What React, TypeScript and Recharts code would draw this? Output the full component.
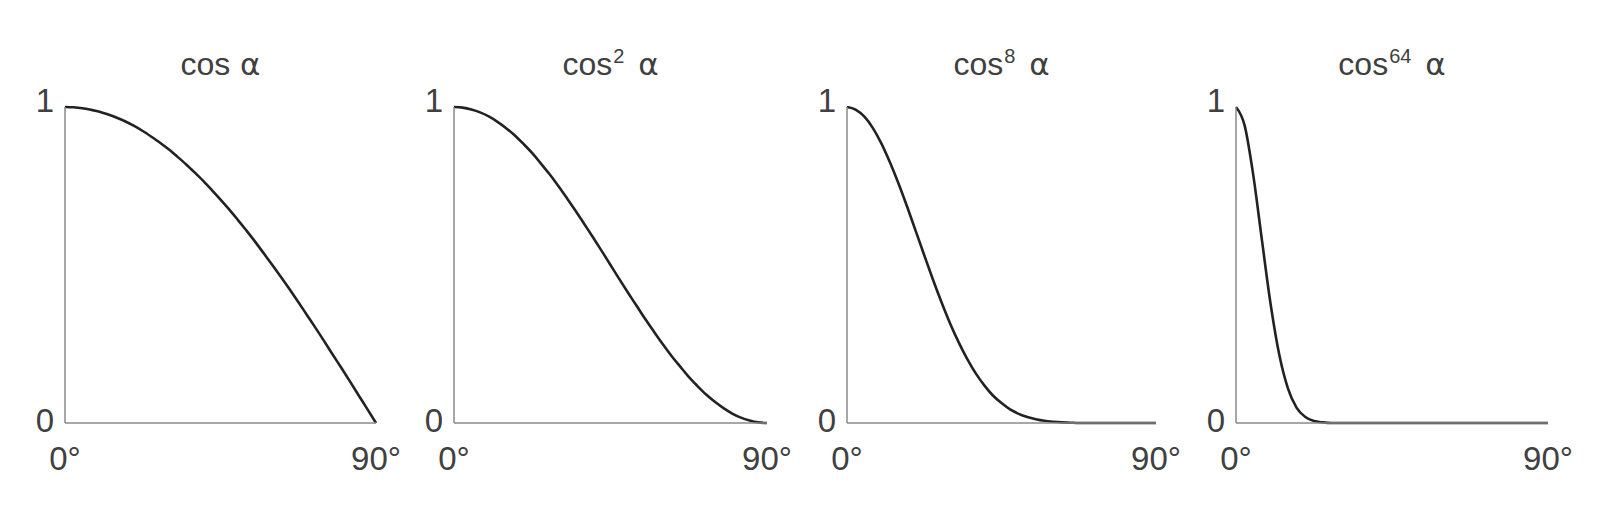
import React from 'react';
import { Line, LineChart, XAxis, YAxis } from 'recharts';

// angle samples in degrees (2.5° step)
const angles = [
  0, 2.5, 5, 7.5, 10, 12.5, 15, 17.5, 20, 22.5, 25, 27.5, 30, 32.5, 35, 37.5, 40, 42.5, 45,
  47.5, 50, 52.5, 55, 57.5, 60, 62.5, 65, 67.5, 70, 72.5, 75, 77.5, 80, 82.5, 85, 87.5, 90
];

// values
const cos1 = [
  1, 0.999, 0.996, 0.991, 0.985, 0.976, 0.966, 0.954, 0.94, 0.924, 0.906, 0.887, 0.866, 0.843,
  0.819, 0.793, 0.766, 0.737, 0.707, 0.676, 0.643, 0.609, 0.574, 0.537, 0.5, 0.462, 0.423,
  0.383, 0.342, 0.301, 0.259, 0.216, 0.174, 0.131, 0.087, 0.044, 0
];
const cos2 = [
  1, 0.998, 0.992, 0.983, 0.97, 0.953, 0.933, 0.91, 0.883, 0.854, 0.821, 0.787, 0.75, 0.711,
  0.671, 0.629, 0.587, 0.544, 0.5, 0.456, 0.413, 0.371, 0.329, 0.289, 0.25, 0.213, 0.179,
  0.146, 0.117, 0.09, 0.067, 0.047, 0.03, 0.017, 0.008, 0.002, 0
];
const cos8 = [
  1, 0.992, 0.97, 0.934, 0.885, 0.825, 0.758, 0.685, 0.608, 0.531, 0.455, 0.383, 0.316, 0.256,
  0.203, 0.157, 0.119, 0.087, 0.063, 0.043, 0.029, 0.019, 0.012, 0.007, 0.004, 0.002, 0.001,
  0, 0, 0, 0, 0, 0, 0, 0, 0, 0
];
const cos64 = [
  1, 0.941, 0.783, 0.577, 0.375, 0.215, 0.109, 0.048, 0.019, 0.006, 0.002, 0, 0, 0, 0, 0, 0,
  0, 0, 0, 0, 0, 0, 0, 0, 0, 0, 0, 0, 0, 0, 0, 0, 0, 0, 0, 0
];

const exponents = ['', '2', '8', '64'];
const seriesList = [cos1, cos2, cos8, cos64];
const xTicks = [0, 90];
const yTicks = [0, 1];

// layout in page pixels
const PAGE = 8;
const axisX = [65, 454, 847, 1236];
const plotW = [311, 313, 309, 312];
const plotTop = 107;
const plotBottom = 423;
const Y_AXIS_W = 60;
const RIGHT = 40;
const CHART_H = 500;

const sans = '"Liberation Sans", Arial, Helvetica, sans-serif';
const greek = '"DejaVu Sans", "Liberation Serif", serif';
const textColor = '#404040';

const XTick = (props: any) => (
  <text
    x={props.x}
    y={props.y}
    dy={47}
    textAnchor="middle"
    fontSize={33}
    fontFamily={sans}
    fill={textColor}
  >
    {props.payload.value}°
  </text>
);

const YTick = (props: any) => (
  <text
    x={props.x}
    y={props.y}
    dy={props.payload.value === 0 ? 9 : 5}
    textAnchor="end"
    fontSize={33}
    fontFamily={sans}
    fill={textColor}
  >
    {props.payload.value}
  </text>
);

const Panel: React.FC<{ index: number }> = ({ index }) => {
  const values = seriesList[index];
  const data = angles.map((a, i) => ({ angle: a, value: values[i] }));
  const width = Y_AXIS_W + plotW[index] + RIGHT;
  return (
    <div
      style={{
        position: 'absolute',
        left: axisX[index] - PAGE - Y_AXIS_W,
        top: 0,
        width,
        height: CHART_H
      }}
    >
      <LineChart
        width={width}
        height={CHART_H}
        data={data}
        margin={{ top: plotTop - PAGE, right: RIGHT, bottom: CHART_H - (plotBottom - PAGE) - 60, left: 0 }}
      >
        <XAxis
          dataKey="angle"
          type="number"
          domain={[0, 90]}
          ticks={xTicks}
          height={60}
          tickLine={false}
          tickSize={0}
          tickMargin={0}
          axisLine={{ stroke: '#8a8a8a', strokeWidth: 1.5 }}
          tick={XTick}
        />
        <YAxis
          type="number"
          domain={[0, 1]}
          ticks={yTicks}
          width={Y_AXIS_W}
          tickLine={false}
          tickSize={0}
          tickMargin={11}
          axisLine={{ stroke: '#8a8a8a', strokeWidth: 1.5 }}
          tick={YTick}
        />
        <Line
          type="monotone"
          dataKey="value"
          stroke="#222"
          strokeWidth={2.6}
          dot={false}
          activeDot={false}
          isAnimationActive={false}
        />
      </LineChart>
    </div>
  );
};

const App: React.FC = () => {
  return (
    <div style={{ position: 'relative', width: 1589, height: 502, background: '#fff' }}>
      {axisX.map((_, i) => (
        <Panel key={i} index={i} />
      ))}
      <svg
        width={1589}
        height={120}
        style={{ position: 'absolute', left: 0, top: 0, pointerEvents: 'none' }}
      >
        {axisX.map((x, i) => (
          <text
            key={i}
            x={x - PAGE + plotW[i] / 2}
            y={74.5 - PAGE}
            textAnchor="middle"
            fontSize={32}
            fontFamily={sans}
            fill={textColor}
          >
            cos
            {exponents[i] && (
              <tspan fontSize={20} dx={1} dy={-12}>
                {exponents[i]}
              </tspan>
            )}
            <tspan
              fontFamily={greek}
              fontSize={31}
              dx={exponents[i] ? 4 : 0}
              dy={exponents[i] ? 12 : 0}
            >
              {' α'}
            </tspan>
          </text>
        ))}
      </svg>
    </div>
  );
};

export default App;
